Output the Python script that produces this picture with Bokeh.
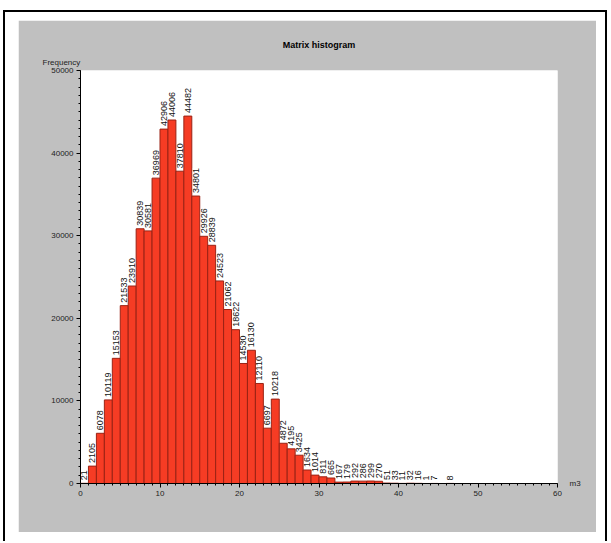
import math
from bokeh.plotting import figure
from bokeh.layouts import column
from bokeh.models import (Range1d, SingleIntervalTicker, FixedTicker, Title, LinearAxis,
                          ColumnDataSource)
from bokeh.core.properties import value
from bokeh.embed import file_html
from bokeh.resources import INLINE

# ---- data ----
bin_left = list(range(0, 47))
counts = [21, 2105, 6078, 10119, 15153, 21533, 23910, 30839, 30581, 36969,
          42906, 44006, 37810, 44482, 34801, 29926, 28839, 24523, 21062, 18622,
          14530, 16130, 12110, 6697, 10218, 4872, 4195, 3425, 1634, 1014,
          811, 665, 167, 179, 292, 286, 299, 270, 51, 33,
          11, 32, 16, 1, 7, 0, 8]
x_ticks = [0, 10, 20, 30, 40, 50, 60]
y_ticks = [0, 10000, 20000, 30000, 40000, 50000]

centers = [b + 0.5 for b in bin_left]
labels = [str(c) if c > 0 else "" for c in counts]
src = ColumnDataSource(dict(x=centers, top=counts, lab=labels))

FONT = "Liberation Sans"

p = figure(width=578, height=512, x_range=Range1d(0, 60), y_range=Range1d(0, 50000),
           output_backend="svg", toolbar_location=None,
           background_fill_color="white", border_fill_color="#c0c0c0",
           min_border_left=62, min_border_right=39, min_border_top=50, min_border_bottom=49,
           margin=(8, 0, 0, 13))
p.outline_line_color = None
p.grid.visible = False

p.title.text = "Matrix histogram"
p.title.align = "center"
p.title.text_font = FONT
p.title.text_font_size = "9px"
p.title.text_font_style = "bold"
p.title.text_color = "black"
p.title.standoff = 4
p.add_layout(Title(text="Frequency", align="left", offset=-38, text_font=FONT,
                   text_font_size="8px", text_font_style="normal", text_color="#222222",
                   standoff=8), "above")

p.vbar(x="x", top="top", width=1.0, source=src, fill_color="#f63c24",
       line_color="#9a2214", line_width=1)
p.text(x="x", y="top", text="lab", source=src, angle=math.pi / 2,
       text_align="left", text_baseline="middle", x_offset=0, y_offset=-3,
       text_font=value(FONT), text_font_size="9px", text_color="#111111",
       background_fill_color="white", background_fill_alpha=0.9)

p.xaxis.ticker = SingleIntervalTicker(interval=10, num_minor_ticks=10)
p.yaxis.ticker = SingleIntervalTicker(interval=10000, num_minor_ticks=10)
for ax in (p.xaxis, p.yaxis):
    ax.axis_line_color = "black"
    ax.major_tick_line_color = "black"
    ax.minor_tick_line_color = "black"
    ax.major_tick_out = 4
    ax.major_tick_in = 0
    ax.minor_tick_out = 2
    ax.minor_tick_in = 0
    ax.major_label_text_font = FONT
    ax.major_label_text_font_size = "8px"
    ax.major_label_text_color = "#222222"
p.yaxis.major_label_standoff = 3
p.xaxis.major_label_standoff = 3

# unit label "m3" at the right end of the x axis
unit_axis = LinearAxis(ticker=FixedTicker(ticks=[0]), major_label_overrides={0: "m3"},
                       axis_line_color=None, major_tick_line_color=None,
                       minor_tick_line_color=None, major_label_standoff=6,
                       major_label_text_font=FONT, major_label_text_font_size="8px",
                       major_label_text_color="#222222")
p.add_layout(unit_axis, "right")

layout = column(p, width=604, height=531, margin=(10, 0, 0, 3),
                styles={"border-left": "2px solid black", "border-top": "2px solid black",
                        "border-right": "2px solid black", "background": "white"})

with open("out.html", "w") as f:
    f.write(file_html(layout, INLINE))
